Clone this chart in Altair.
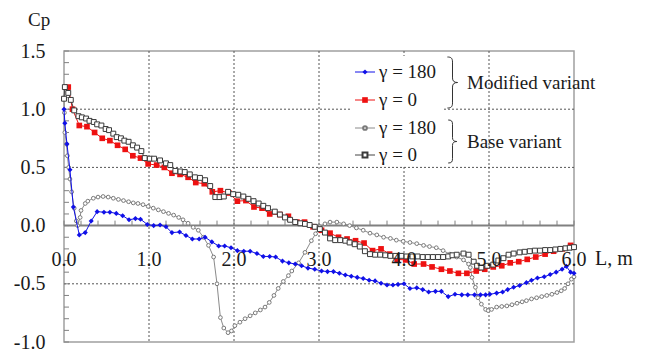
import altair as alt
import pandas as pd

# ---------------- data ----------------
mod180_x = [0.00, 0.01, 0.035, 0.07, 0.11, 0.18, 0.25, 0.32, 0.39, 0.47, 0.54, 0.615, 0.69, 0.765, 0.84, 0.90,
            0.98, 1.055, 1.13, 1.20, 1.27, 1.36, 1.435, 1.51, 1.59, 1.66, 1.74, 1.82, 1.89, 1.965, 2.04, 2.115,
            2.19, 2.27, 2.345, 2.42, 2.49, 2.57, 2.645, 2.72, 2.795, 2.87, 2.95, 3.03, 3.10, 3.17, 3.24, 3.31,
            3.38, 3.45, 3.52, 3.59, 3.66, 3.73, 3.80, 3.87, 3.93, 4.00, 4.07, 4.15, 4.22, 4.29, 4.37, 4.44,
            4.52, 4.60, 4.68, 4.75, 4.83, 4.90, 4.96, 5.01, 5.09, 5.16, 5.22, 5.29, 5.36, 5.44, 5.50, 5.57,
            5.65, 5.72, 5.79, 5.86, 5.91, 5.96, 6.00]
mod180_y = [1.00, 0.88, 0.70, 0.48, 0.16, -0.08, -0.06, 0.04, 0.12, 0.115, 0.115, 0.105, 0.085, 0.05, 0.06, 0.055,
            0.01, 0.0, 0.005, -0.01, -0.06, -0.055, -0.085, -0.115, -0.115, -0.10, -0.14, -0.175, -0.175, -0.19,
            -0.215, -0.22, -0.22, -0.24, -0.265, -0.265, -0.27, -0.305, -0.32, -0.33, -0.345, -0.365, -0.375,
            -0.39, -0.395, -0.395, -0.41, -0.425, -0.435, -0.445, -0.455, -0.47, -0.475, -0.495, -0.51, -0.51,
            -0.505, -0.50, -0.54, -0.535, -0.55, -0.57, -0.565, -0.565, -0.61, -0.59, -0.595, -0.595, -0.595,
            -0.595, -0.595, -0.59, -0.58, -0.57, -0.55, -0.53, -0.515, -0.49, -0.47, -0.45, -0.44, -0.42, -0.40,
            -0.375, -0.35, -0.40, -0.41]

mod0_x = [0.05, 0.10, 0.18, 0.27, 0.36, 0.45, 0.54, 0.63, 0.72, 0.81, 0.90, 0.99, 1.09, 1.18, 1.27, 1.365,
          1.46, 1.55, 1.65, 1.745, 1.84, 1.94, 2.04, 2.14, 2.235, 2.33, 2.42, 2.54, 2.64, 2.74, 2.83, 2.93,
          3.03, 3.13, 3.23, 3.33, 3.43, 3.53, 3.63, 3.73, 3.83, 3.92, 4.02, 4.12, 4.23, 4.33, 4.44, 4.54,
          4.64, 4.74, 4.85, 4.95, 5.05, 5.15, 5.25, 5.35, 5.45, 5.55, 5.66, 5.76, 5.86, 5.96]
mod0_y = [1.19, 1.00, 0.86, 0.85, 0.80, 0.75, 0.73, 0.69, 0.655, 0.60, 0.58, 0.53, 0.52, 0.50, 0.45, 0.44,
          0.415, 0.37, 0.36, 0.29, 0.30, 0.28, 0.21, 0.215, 0.16, 0.15, 0.10, 0.095, 0.08, 0.03, 0.03, -0.01,
          -0.04, -0.065, -0.10, -0.115, -0.13, -0.15, -0.215, -0.20, -0.245, -0.29, -0.295, -0.33, -0.33,
          -0.355, -0.375, -0.39, -0.41, -0.41, -0.39, -0.375, -0.355, -0.345, -0.32, -0.31, -0.29, -0.27,
          -0.245, -0.22, -0.20, -0.17]

base0_x = [0.00, 0.01, 0.05, 0.08, 0.12, 0.17, 0.21, 0.26, 0.30, 0.35, 0.39, 0.44, 0.49, 0.53, 0.58, 0.62,
           0.67, 0.71, 0.76, 0.81, 0.86, 0.91, 0.95, 1.01, 1.06, 1.13, 1.20, 1.25, 1.31, 1.37, 1.42, 1.48,
           1.54, 1.60, 1.66, 1.72, 1.78, 1.83, 1.88, 1.93, 1.99, 2.05, 2.11, 2.17, 2.23, 2.29, 2.345, 2.40,
           2.48, 2.54, 2.60, 2.66, 2.72, 2.78, 2.835, 2.89, 2.95, 3.01, 3.07, 3.13, 3.19, 3.25, 3.31, 3.36,
           3.42, 3.48, 3.54, 3.60, 3.66, 3.72, 3.78, 3.84, 3.90, 3.97, 4.03, 4.10, 4.16, 4.22, 4.28, 4.34,
           4.40, 4.46, 4.52, 4.57, 4.62, 4.70, 4.76, 4.82, 4.86, 4.91, 4.98, 5.05, 5.11, 5.17, 5.23, 5.29,
           5.36, 5.42, 5.48, 5.54, 5.60, 5.66, 5.72, 5.78, 5.84, 5.90, 5.95, 6.00]
base0_y = [1.09, 1.19, 1.14, 1.08, 0.99, 0.94, 0.93, 0.92, 0.90, 0.89, 0.87, 0.86, 0.83, 0.82, 0.79, 0.76,
           0.75, 0.73, 0.72, 0.69, 0.67, 0.64, 0.58, 0.575, 0.575, 0.56, 0.535, 0.52, 0.47, 0.465, 0.46, 0.44,
           0.415, 0.41, 0.39, 0.34, 0.245, 0.245, 0.25, 0.29, 0.27, 0.265, 0.25, 0.23, 0.21, 0.19, 0.17, 0.15,
           0.12, 0.095, 0.07, 0.05, 0.03, 0.02, 0.015, 0.005, -0.01, -0.03, -0.06, -0.11, -0.125, -0.125,
           -0.13, -0.145, -0.16, -0.18, -0.22, -0.245, -0.25, -0.25, -0.255, -0.26, -0.26, -0.26, -0.265,
           -0.265, -0.265, -0.27, -0.27, -0.27, -0.27, -0.27, -0.265, -0.255, -0.25, -0.24, -0.25, -0.31,
           -0.345, -0.36, -0.345, -0.335, -0.30, -0.28, -0.25, -0.24, -0.23, -0.225, -0.22, -0.215, -0.215,
           -0.21, -0.21, -0.205, -0.20, -0.195, -0.19, -0.185]

base180_x = [0.00, 0.005, 0.01, 0.03, 0.04, 0.055, 0.07, 0.09, 0.12, 0.145, 0.16, 0.19, 0.20, 0.25, 0.28, 0.345,
             0.40, 0.46, 0.52, 0.58, 0.64, 0.70, 0.76, 0.815, 0.87, 0.93, 0.99, 1.05, 1.11, 1.17, 1.23, 1.29,
             1.35, 1.40, 1.46, 1.52, 1.58, 1.64, 1.70, 1.76, 1.80, 1.84, 1.88, 1.93, 1.97, 2.01, 2.07, 2.13,
             2.19, 2.25, 2.31, 2.365, 2.415, 2.47, 2.52, 2.58, 2.64, 2.68, 2.76, 2.835, 2.91, 2.96, 3.01, 3.07,
             3.13, 3.21, 3.29, 3.36, 3.44, 3.52, 3.60, 3.68, 3.76, 3.84, 3.91, 3.99, 4.07, 4.15, 4.23, 4.30,
             4.38, 4.46, 4.54, 4.62, 4.70, 4.76, 4.78, 4.80, 4.84, 4.87, 4.91, 4.96, 4.99, 5.03, 5.09, 5.15,
             5.21, 5.27, 5.33, 5.39, 5.44, 5.50, 5.56, 5.62, 5.68, 5.74, 5.80, 5.85, 5.89, 5.93, 5.97, 6.00]
base180_y = [1.09, 0.97, 0.80, 0.70, 0.60, 0.50, 0.40, 0.29, 0.15, 0.04, 0.00, 0.07, 0.13, 0.19, 0.21, 0.235,
             0.245, 0.25, 0.245, 0.235, 0.225, 0.215, 0.205, 0.195, 0.19, 0.18, 0.165, 0.15, 0.135, 0.12, 0.105,
             0.09, 0.07, 0.05, 0.02, -0.015, -0.04, -0.10, -0.17, -0.27, -0.50, -0.79, -0.88, -0.92, -0.905,
             -0.86, -0.83, -0.80, -0.775, -0.75, -0.725, -0.70, -0.66, -0.60, -0.54, -0.48, -0.43, -0.39, -0.32,
             -0.23, -0.13, -0.07, -0.01, 0.015, 0.03, 0.03, 0.015, 0.0, -0.02, -0.04, -0.065, -0.08, -0.10,
             -0.11, -0.125, -0.135, -0.145, -0.155, -0.17, -0.18, -0.19, -0.215, -0.245, -0.27, -0.295, -0.33,
             -0.36, -0.445, -0.53, -0.62, -0.675, -0.72, -0.73, -0.72, -0.70, -0.695, -0.69, -0.68, -0.667,
             -0.655, -0.645, -0.63, -0.62, -0.61, -0.60, -0.59, -0.575, -0.56, -0.54, -0.50, -0.46, -0.44]

x_label_values = [0, 1, 2, 3, 4, 5, 6]
x_label_texts = ["0.0", "1.0", "2.0", "3.0", "4.0", "5.0", "6.0"]
y_label_values = [-1.0, -0.5, 0.0, 0.5, 1.0, 1.5]
x_grid = [1, 2, 3, 4, 5]
y_grid = [-0.5, 0.5, 1.0]
x_minor = [round(0.2 * i, 1) for i in range(31)]
y_minor = [round(-1.0 + 0.1 * i, 1) for i in range(26)]

legend_labels = ["γ = 180", "γ = 0", "γ = 180", "γ = 0"]
group_labels = ["Modified variant", "Base variant"]

# ---------------- chart ----------------
FONT = "Liberation Serif"
TXT = "#1a1a1a"
AX_FS = 20
LG_FS = 19
xs = alt.Scale(domain=[0, 6], nice=False, zero=False)
ys = alt.Scale(domain=[-1, 1.5], nice=False, zero=False)

yaxis = alt.Axis(values=y_label_values,
                 labelExpr="replace(format(datum.value, '.1f'), '\u2212', '-')",
                 domain=False, ticks=False, grid=False, labelFont=FONT, labelFontSize=AX_FS,
                 labelColor=TXT, labelPadding=19, title=None)


def XQ(f):
    return alt.X(f, type="quantitative", scale=xs, axis=None)


def YQ(f):
    return alt.Y(f, type="quantitative", scale=ys, axis=yaxis)


one = pd.DataFrame({"a": [0]})

grid_x = alt.Chart(pd.DataFrame({"v": x_grid})).mark_rule(
    color="#555555", strokeDash=[2, 2], strokeWidth=1).encode(x=XQ("v"))
grid_y = alt.Chart(pd.DataFrame({"v": y_grid})).mark_rule(
    color="#555555", strokeDash=[2, 2], strokeWidth=1).encode(y=YQ("v"))

legend_bg = alt.Chart(one).mark_rect(color="white").encode(
    x=alt.value(288), x2=alt.value(379), y=alt.value(5), y2=alt.value(114))

zero_line = alt.Chart(pd.DataFrame({"v": [0.0]})).mark_rule(color="#808080", strokeWidth=2).encode(
    y=YQ("v"))

ticks_x = alt.Chart(pd.DataFrame({"v": x_minor, "z": [0.0] * len(x_minor)})).mark_rule(
    color="#808080", strokeWidth=1, y2Offset=-5).encode(
    x=XQ("v"), y=YQ("z"), y2="z:Q")
ticks_y = alt.Chart(pd.DataFrame({"v": y_minor, "z": [0.0] * len(y_minor)})).mark_rule(
    color="#808080", strokeWidth=1, x2Offset=5).encode(
    y=YQ("v"), x=XQ("z"), x2="z:Q")


def series(xv, yv, color, shape, filled, size, mcolor, lw=1):
    df = pd.DataFrame({"x": xv, "y": yv})
    base = alt.Chart(df)
    line = base.mark_line(color=color, strokeWidth=lw).encode(x=XQ("x"), y=YQ("y"))
    if filled:
        pts = base.mark_point(shape=shape, filled=True, size=size, color=mcolor, opacity=1).encode(
            x=XQ("x"), y=YQ("y"))
    else:
        pts = base.mark_point(shape=shape, filled=False, size=size, stroke=mcolor, fill="white",
                              fillOpacity=1, strokeWidth=1, opacity=1).encode(x=XQ("x"), y=YQ("y"))
    return [line, pts]


BLUE = "#1010e8"
RED = "#ee1111"
SQ = "#3a3a3a"
CI = "#7a7a7a"

s_base180 = series(base180_x, base180_y, "#8a8a8a", "circle", False, 14, CI)
s_mod0 = series(mod0_x, mod0_y, RED, "square", True, 32, RED)
s_base0 = series(base0_x, base0_y, "#444444", "square", False, 24, SQ)
s_mod180 = series(mod180_x, mod180_y, BLUE, "diamond", True, 26, BLUE)

x_labels = alt.Chart(pd.DataFrame({"v": x_label_values, "t": x_label_texts, "z": [0.0] * 7})).mark_text(
    font=FONT, fontSize=AX_FS, color=TXT, dy=34, baseline="middle", align="center").encode(
    x=XQ("v"), y=YQ("z"), text="t:N")

lm = alt.Chart(one).mark_text(text="L, m", font=FONT, fontSize=AX_FS, color=TXT, align="left",
                              baseline="middle").encode(x=alt.value(531), y=alt.value(208))
cp = alt.Chart(one).mark_text(text="Cp", font=FONT, fontSize=LG_FS, color=TXT, align="left",
                              baseline="middle").encode(x=alt.value(-36), y=alt.value(-31))

# legend
leg_rows = [21, 49, 77, 104]
leg_styles = [(BLUE, "diamond", True, 26, BLUE), (RED, "square", True, 32, RED),
              ("#8a8a8a", "circle", False, 14, CI), ("#444444", "square", False, 24, SQ)]
legend_layers = []
for lab, ry, (lc, shp, fil, sz, mc) in zip(legend_labels, leg_rows, leg_styles):
    legend_layers.append(alt.Chart(one).mark_rule(color=lc, strokeWidth=1).encode(
        x=alt.value(291), x2=alt.value(311), y=alt.value(ry)))
    if fil:
        legend_layers.append(alt.Chart(one).mark_point(shape=shp, filled=True, size=sz, color=mc, opacity=1).encode(
            x=alt.value(301), y=alt.value(ry)))
    else:
        legend_layers.append(alt.Chart(one).mark_point(shape=shp, filled=False, size=sz, stroke=mc, fill="white",
                                                        fillOpacity=1, opacity=1).encode(
            x=alt.value(301), y=alt.value(ry)))
    legend_layers.append(alt.Chart(one).mark_text(text=lab, font=FONT, fontSize=LG_FS, color=TXT, align="left",
                                                  baseline="middle").encode(x=alt.value(315), y=alt.value(ry)))

BRACE = ("M -0.2 -1 C -0.05 -1 0 -0.95 0 -0.8 L 0 -0.18 C 0 -0.06 0.06 0 0.2 0 "
         "C 0.06 0 0 0.06 0 0.18 L 0 0.8 C 0 0.95 -0.05 1 -0.2 1")
for gy, gsize, glab in [(31.5, 2601, group_labels[0]), (90.5, 1849, group_labels[1])]:
    legend_layers.append(alt.Chart(one).mark_point(shape=BRACE, filled=False, size=gsize, stroke="#333333",
                                                    strokeWidth=1, opacity=1).encode(
        x=alt.value(388.5), y=alt.value(gy)))
    legend_layers.append(alt.Chart(one).mark_text(text=glab, font=FONT, fontSize=LG_FS, color=TXT, align="left",
                                                  baseline="middle").encode(x=alt.value(403), y=alt.value(gy)))

chart = alt.layer(
    grid_x, grid_y, legend_bg, zero_line, ticks_x, ticks_y,
    *s_base180, *s_mod0, *s_base0, *s_mod180,
    x_labels, lm, cp, *legend_layers
).properties(
    width=510, height=291,
    autosize=alt.AutoSizeParams(type="none"),
    padding={"left": 64, "top": 51, "right": 78, "bottom": 10},
    background="white",
).configure_view(stroke="#a0a0a0", strokeWidth=1.5)

chart.save("out.html", embed_options={"renderer": "svg", "actions": False})
